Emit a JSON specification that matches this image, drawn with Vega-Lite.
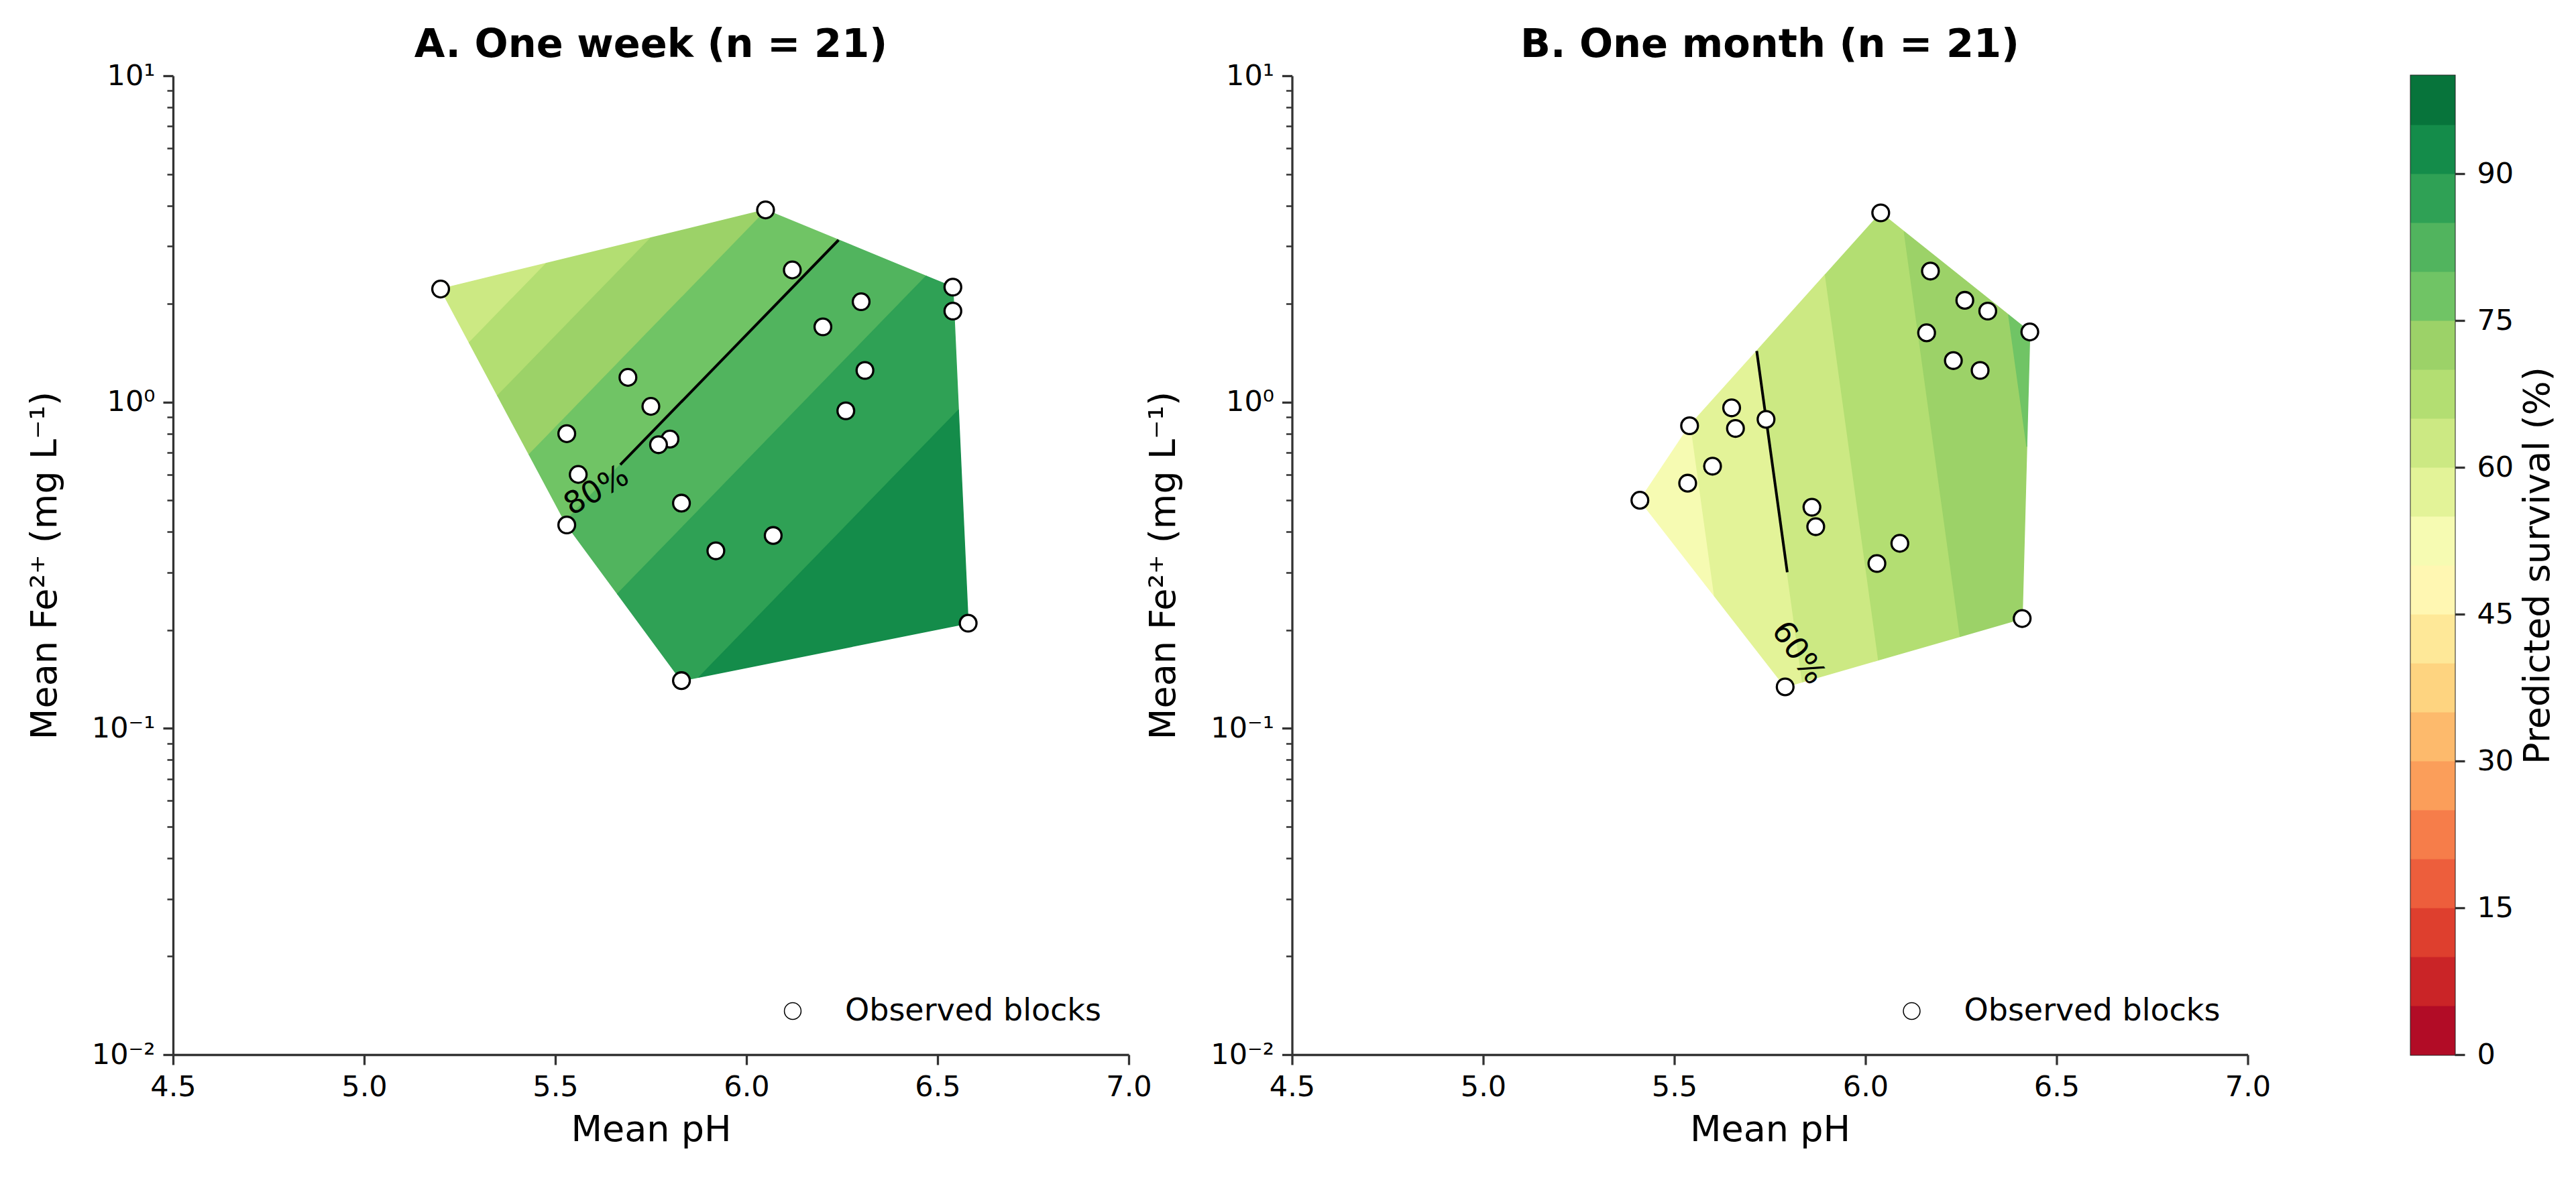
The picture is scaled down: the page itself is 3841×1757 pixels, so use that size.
{
  "$schema": "https://vega.github.io/schema/vega-lite/v6.json",
  "background": "white",
  "padding": {"left": 40, "top": 38, "right": 10, "bottom": 10},
  "autosize": {"type": "pad"},
  "config": {
    "font": "DejaVu Sans",
    "view": {"stroke": null},
    "axis": {
      "grid": false, "labelFont": "DejaVu Sans", "titleFont": "DejaVu Sans",
      "labelFontSize": 43, "titleFontSize": 54, "titleFontWeight": "normal",
      "labelColor": "black", "titleColor": "black",
      "domainColor": "#333333", "tickColor": "#333333",
      "domainWidth": 3.3, "tickWidth": 3.3, "tickSize": 15, "labelPadding": 12,
      "labelFlush": false, "labelOverlap": false, "labelBound": false
    }
  },
  "datasets": {
    "bands": [
      {"band": "0-5", "lo": 0, "hi": 5}, {"band": "5-10", "lo": 5, "hi": 10},
      {"band": "10-15", "lo": 10, "hi": 15}, {"band": "15-20", "lo": 15, "hi": 20},
      {"band": "20-25", "lo": 20, "hi": 25}, {"band": "25-30", "lo": 25, "hi": 30},
      {"band": "30-35", "lo": 30, "hi": 35}, {"band": "35-40", "lo": 35, "hi": 40},
      {"band": "40-45", "lo": 40, "hi": 45}, {"band": "45-50", "lo": 45, "hi": 50},
      {"band": "50-55", "lo": 50, "hi": 55}, {"band": "55-60", "lo": 55, "hi": 60},
      {"band": "60-65", "lo": 60, "hi": 65}, {"band": "65-70", "lo": 65, "hi": 70},
      {"band": "70-75", "lo": 70, "hi": 75}, {"band": "75-80", "lo": 75, "hi": 80},
      {"band": "80-85", "lo": 80, "hi": 85}, {"band": "85-90", "lo": 85, "hi": 90},
      {"band": "90-95", "lo": 90, "hi": 95}, {"band": "95-100", "lo": 95, "hi": 100}
    ],
    "polyA": [
      {"band": "60-65", "i": 0, "pH": 5.20, "Fe": 2.22},
      {"band": "60-65", "i": 1, "pH": 5.4768, "Fe": 2.663},
      {"band": "60-65", "i": 2, "pH": 5.2750, "Fe": 1.5205},
      {"band": "65-70", "i": 0, "pH": 5.4768, "Fe": 2.663},
      {"band": "65-70", "i": 1, "pH": 5.7502, "Fe": 3.186},
      {"band": "65-70", "i": 2, "pH": 5.3491, "Fe": 1.0462},
      {"band": "65-70", "i": 3, "pH": 5.2750, "Fe": 1.5205},
      {"band": "70-75", "i": 0, "pH": 5.7502, "Fe": 3.186},
      {"band": "70-75", "i": 1, "pH": 6.05, "Fe": 3.88},
      {"band": "70-75", "i": 2, "pH": 6.0523, "Fe": 3.870},
      {"band": "70-75", "i": 3, "pH": 5.4315, "Fe": 0.6904},
      {"band": "70-75", "i": 4, "pH": 5.3491, "Fe": 1.0462},
      {"band": "75-80", "i": 0, "pH": 6.0523, "Fe": 3.870},
      {"band": "75-80", "i": 1, "pH": 6.2410, "Fe": 3.1376},
      {"band": "75-80", "i": 2, "pH": 5.5253, "Fe": 0.4300},
      {"band": "75-80", "i": 3, "pH": 5.4315, "Fe": 0.6904},
      {"band": "80-85", "i": 0, "pH": 6.2410, "Fe": 3.1376},
      {"band": "80-85", "i": 1, "pH": 6.4703, "Fe": 2.4316},
      {"band": "80-85", "i": 2, "pH": 5.6628, "Fe": 0.2582},
      {"band": "80-85", "i": 3, "pH": 5.53, "Fe": 0.42},
      {"band": "80-85", "i": 4, "pH": 5.5253, "Fe": 0.4300},
      {"band": "85-90", "i": 0, "pH": 6.4703, "Fe": 2.4316},
      {"band": "85-90", "i": 1, "pH": 6.54, "Fe": 2.25},
      {"band": "85-90", "i": 2, "pH": 6.5546, "Fe": 0.9447},
      {"band": "85-90", "i": 3, "pH": 5.8761, "Fe": 0.1435},
      {"band": "85-90", "i": 4, "pH": 5.83, "Fe": 0.14},
      {"band": "85-90", "i": 5, "pH": 5.6628, "Fe": 0.2582},
      {"band": "90-95", "i": 0, "pH": 6.5546, "Fe": 0.9447},
      {"band": "90-95", "i": 1, "pH": 6.58, "Fe": 0.21},
      {"band": "90-95", "i": 2, "pH": 5.8761, "Fe": 0.1435}
    ],
    "polyB": [
      {"band": "50-55", "i": 0, "pH": 5.41, "Fe": 0.50},
      {"band": "50-55", "i": 1, "pH": 5.54, "Fe": 0.846},
      {"band": "50-55", "i": 2, "pH": 5.5431, "Fe": 0.8541},
      {"band": "50-55", "i": 3, "pH": 5.6052, "Fe": 0.2543},
      {"band": "55-60", "i": 0, "pH": 5.5431, "Fe": 0.8541},
      {"band": "55-60", "i": 1, "pH": 5.7156, "Fe": 1.4338},
      {"band": "55-60", "i": 2, "pH": 5.8352, "Fe": 0.1388},
      {"band": "55-60", "i": 3, "pH": 5.79, "Fe": 0.134},
      {"band": "55-60", "i": 4, "pH": 5.6052, "Fe": 0.2543},
      {"band": "60-65", "i": 0, "pH": 5.7156, "Fe": 1.4338},
      {"band": "60-65", "i": 1, "pH": 5.8950, "Fe": 2.4575},
      {"band": "60-65", "i": 2, "pH": 6.0343, "Fe": 0.1620},
      {"band": "60-65", "i": 3, "pH": 5.8352, "Fe": 0.1388},
      {"band": "65-70", "i": 0, "pH": 5.8950, "Fe": 2.4575},
      {"band": "65-70", "i": 1, "pH": 6.04, "Fe": 3.80},
      {"band": "65-70", "i": 2, "pH": 6.1014, "Fe": 3.3289},
      {"band": "65-70", "i": 3, "pH": 6.2478, "Fe": 0.1913},
      {"band": "65-70", "i": 4, "pH": 6.0343, "Fe": 0.1620},
      {"band": "70-75", "i": 0, "pH": 6.1014, "Fe": 3.3289},
      {"band": "70-75", "i": 1, "pH": 6.3746, "Fe": 1.8480},
      {"band": "70-75", "i": 2, "pH": 6.4220, "Fe": 0.7318},
      {"band": "70-75", "i": 3, "pH": 6.41, "Fe": 0.217},
      {"band": "70-75", "i": 4, "pH": 6.2478, "Fe": 0.1913},
      {"band": "75-80", "i": 0, "pH": 6.3746, "Fe": 1.8480},
      {"band": "75-80", "i": 1, "pH": 6.43, "Fe": 1.64},
      {"band": "75-80", "i": 2, "pH": 6.4220, "Fe": 0.7318}
    ],
    "lineA": [{"pH": 5.670, "Fe": 0.6427}, {"pH": 6.2410, "Fe": 3.1376}],
    "lineB": [{"pH": 5.7156, "Fe": 1.4338}, {"pH": 5.7955, "Fe": 0.301}],
    "ptsA": [
      {"pH": 5.20, "Fe": 2.22}, {"pH": 6.05, "Fe": 3.88}, {"pH": 6.12, "Fe": 2.54},
      {"pH": 6.54, "Fe": 2.25}, {"pH": 6.54, "Fe": 1.90}, {"pH": 6.30, "Fe": 2.03},
      {"pH": 6.20, "Fe": 1.70}, {"pH": 6.31, "Fe": 1.25}, {"pH": 6.26, "Fe": 0.94},
      {"pH": 5.69, "Fe": 1.19}, {"pH": 5.75, "Fe": 0.97}, {"pH": 5.53, "Fe": 0.80},
      {"pH": 5.80, "Fe": 0.77}, {"pH": 5.77, "Fe": 0.74}, {"pH": 5.56, "Fe": 0.60},
      {"pH": 5.83, "Fe": 0.49}, {"pH": 5.53, "Fe": 0.42}, {"pH": 6.07, "Fe": 0.39},
      {"pH": 5.92, "Fe": 0.35}, {"pH": 5.83, "Fe": 0.14}, {"pH": 6.58, "Fe": 0.21}
    ],
    "ptsB": [
      {"pH": 6.04, "Fe": 3.80}, {"pH": 6.17, "Fe": 2.52}, {"pH": 6.26, "Fe": 2.05},
      {"pH": 6.32, "Fe": 1.90}, {"pH": 6.43, "Fe": 1.64}, {"pH": 6.16, "Fe": 1.63},
      {"pH": 6.23, "Fe": 1.34}, {"pH": 6.30, "Fe": 1.25}, {"pH": 5.65, "Fe": 0.96},
      {"pH": 5.74, "Fe": 0.885}, {"pH": 5.54, "Fe": 0.846}, {"pH": 5.66, "Fe": 0.83},
      {"pH": 5.60, "Fe": 0.636}, {"pH": 5.535, "Fe": 0.564}, {"pH": 5.41, "Fe": 0.50},
      {"pH": 5.86, "Fe": 0.476}, {"pH": 5.87, "Fe": 0.415}, {"pH": 6.09, "Fe": 0.369},
      {"pH": 6.03, "Fe": 0.320}, {"pH": 6.41, "Fe": 0.217}, {"pH": 5.79, "Fe": 0.134}
    ]
  },
  "hconcat": [
    {
      "width": 1425, "height": 1460,
      "title": {"text": "A. One week (n = 21)", "fontSize": 59, "fontWeight": "bold", "offset": -52, "baseline": "alphabetic", "color": "black", "font": "DejaVu Sans", "anchor": "middle"},
      "layer": [
        {
          "data": {"name": "polyA"},
          "mark": {"type": "line", "interpolate": "linear-closed", "filled": true, "strokeWidth": 1.5, "strokeJoin": "round"},
          "encoding": {
            "x": {"field": "pH", "type": "quantitative", "scale": {"domain": [4.5, 7], "nice": false, "zero": false},
                  "axis": {"title": "Mean pH", "values": [4.5, 5, 5.5, 6, 6.5, 7], "format": ".1f", "titlePadding": 15}},
            "y": {"field": "Fe", "type": "quantitative", "scale": {"type": "log", "domain": [0.01, 10], "nice": false},
                  "axis": {"title": "Mean Fe²⁺ (mg L⁻¹)", "values": [0.01, 0.1, 1, 10], "titlePadding": 42,
                           "labelExpr": "datum.value > 5 ? '10¹' : datum.value > 0.5 ? '10⁰' : datum.value > 0.05 ? '10⁻¹' : '10⁻²'"}},
            "order": {"field": "i", "type": "quantitative"},
            "fill": {"field": "band", "type": "nominal", "legend": null,
                     "scale": {"domain": ["0-5","5-10","10-15","15-20","20-25","25-30","30-35","35-40","40-45","45-50","50-55","55-60","60-65","65-70","70-75","75-80","80-85","85-90","90-95","95-100"],
                               "range": ["#b20c26","#ca2427","#de3f2e","#ed5e3c","#f67d4a","#fb9e5a","#fdba6c","#fed480","#fee898","#fff7b2","#f6fbb2","#e3f398","#cce983","#b3de72","#9cd268","#70c465","#51b45e","#2fa155","#148c4a","#07743b"]}},
            "stroke": {"field": "band", "type": "nominal", "legend": null,
                     "scale": {"domain": ["0-5","5-10","10-15","15-20","20-25","25-30","30-35","35-40","40-45","45-50","50-55","55-60","60-65","65-70","70-75","75-80","80-85","85-90","90-95","95-100"],
                               "range": ["#b20c26","#ca2427","#de3f2e","#ed5e3c","#f67d4a","#fb9e5a","#fdba6c","#fed480","#fee898","#fff7b2","#f6fbb2","#e3f398","#cce983","#b3de72","#9cd268","#70c465","#51b45e","#2fa155","#148c4a","#07743b"]}}
          }
        },
        {
          "data": {"name": "lineA"},
          "mark": {"type": "line", "color": "black", "strokeWidth": 4},
          "encoding": {
            "x": {"field": "pH", "type": "quantitative"},
            "y": {"field": "Fe", "type": "quantitative", "axis": null}
          }
        },
        {
          "data": {"values": [{"pH": 5.608, "Fe": 0.535, "label": "80%"}]},
          "mark": {"type": "text", "angle": 330, "fontSize": 46, "color": "black", "font": "DejaVu Sans"},
          "encoding": {
            "x": {"field": "pH", "type": "quantitative"},
            "y": {"field": "Fe", "type": "quantitative", "axis": null},
            "text": {"field": "label"}
          }
        },
        {
          "data": {"name": "ptsA"},
          "mark": {"type": "point", "filled": true, "fill": "white", "stroke": "black", "strokeWidth": 3.3, "size": 620, "opacity": 1},
          "encoding": {
            "x": {"field": "pH", "type": "quantitative"},
            "y": {"field": "Fe", "type": "quantitative",
                  "axis": {"orient": "left", "values": [0.02,0.03,0.04,0.05,0.06,0.07,0.08,0.09,0.2,0.3,0.4,0.5,0.6,0.7,0.8,0.9,2,3,4,5,6,7,8,9],
                           "labels": false, "tickSize": 9, "tickWidth": 2.5, "domain": false, "title": null}},
            "shape": {"datum": "Observed blocks", "type": "nominal", "scale": {"range": ["circle"]},
                      "legend": {"orient": "none", "legendX": 901, "legendY": 1372, "title": null, "labelFontSize": 46, "labelFont": "DejaVu Sans",
                                 "labelColor": "black", "labelLimit": 800, "symbolSize": 620, "symbolType": "circle", "labelOffset": 55, "padding": 0,
                                 "encode": {"symbols": {"update": {"fill": {"value": "white"}, "stroke": {"value": "black"}, "strokeWidth": {"value": 3.3}, "opacity": {"value": 1}}}}}}
          }
        }
      ],
      "resolve": {"axis": {"y": "independent"}}
    },
    {
      "width": 1425, "height": 1460,
      "title": {"text": "B. One month (n = 21)", "fontSize": 59, "fontWeight": "bold", "offset": -52, "baseline": "alphabetic", "color": "black", "font": "DejaVu Sans", "anchor": "middle"},
      "layer": [
        {
          "data": {"name": "polyB"},
          "mark": {"type": "line", "interpolate": "linear-closed", "filled": true, "strokeWidth": 1.5, "strokeJoin": "round"},
          "encoding": {
            "x": {"field": "pH", "type": "quantitative", "scale": {"domain": [4.5, 7], "nice": false, "zero": false},
                  "axis": {"title": "Mean pH", "values": [4.5, 5, 5.5, 6, 6.5, 7], "format": ".1f", "titlePadding": 15}},
            "y": {"field": "Fe", "type": "quantitative", "scale": {"type": "log", "domain": [0.01, 10], "nice": false},
                  "axis": {"title": "Mean Fe²⁺ (mg L⁻¹)", "values": [0.01, 0.1, 1, 10], "titlePadding": 42,
                           "labelExpr": "datum.value > 5 ? '10¹' : datum.value > 0.5 ? '10⁰' : datum.value > 0.05 ? '10⁻¹' : '10⁻²'"}},
            "order": {"field": "i", "type": "quantitative"},
            "fill": {"field": "band", "type": "nominal", "legend": null,
                     "scale": {"domain": ["0-5","5-10","10-15","15-20","20-25","25-30","30-35","35-40","40-45","45-50","50-55","55-60","60-65","65-70","70-75","75-80","80-85","85-90","90-95","95-100"],
                               "range": ["#b20c26","#ca2427","#de3f2e","#ed5e3c","#f67d4a","#fb9e5a","#fdba6c","#fed480","#fee898","#fff7b2","#f6fbb2","#e3f398","#cce983","#b3de72","#9cd268","#70c465","#51b45e","#2fa155","#148c4a","#07743b"]}},
            "stroke": {"field": "band", "type": "nominal", "legend": null,
                     "scale": {"domain": ["0-5","5-10","10-15","15-20","20-25","25-30","30-35","35-40","40-45","45-50","50-55","55-60","60-65","65-70","70-75","75-80","80-85","85-90","90-95","95-100"],
                               "range": ["#b20c26","#ca2427","#de3f2e","#ed5e3c","#f67d4a","#fb9e5a","#fdba6c","#fed480","#fee898","#fff7b2","#f6fbb2","#e3f398","#cce983","#b3de72","#9cd268","#70c465","#51b45e","#2fa155","#148c4a","#07743b"]}}
          }
        },
        {
          "data": {"name": "lineB"},
          "mark": {"type": "line", "color": "black", "strokeWidth": 4},
          "encoding": {
            "x": {"field": "pH", "type": "quantitative"},
            "y": {"field": "Fe", "type": "quantitative", "axis": null}
          }
        },
        {
          "data": {"values": [{"pH": 5.824, "Fe": 0.170, "label": "60%"}]},
          "mark": {"type": "text", "angle": 55, "fontSize": 46, "color": "black", "font": "DejaVu Sans"},
          "encoding": {
            "x": {"field": "pH", "type": "quantitative"},
            "y": {"field": "Fe", "type": "quantitative", "axis": null},
            "text": {"field": "label"}
          }
        },
        {
          "data": {"name": "ptsB"},
          "mark": {"type": "point", "filled": true, "fill": "white", "stroke": "black", "strokeWidth": 3.3, "size": 620, "opacity": 1},
          "encoding": {
            "x": {"field": "pH", "type": "quantitative"},
            "y": {"field": "Fe", "type": "quantitative",
                  "axis": {"orient": "left", "values": [0.02,0.03,0.04,0.05,0.06,0.07,0.08,0.09,0.2,0.3,0.4,0.5,0.6,0.7,0.8,0.9,2,3,4,5,6,7,8,9],
                           "labels": false, "tickSize": 9, "tickWidth": 2.5, "domain": false, "title": null}},
            "shape": {"datum": "Observed blocks", "type": "nominal", "scale": {"range": ["circle"]},
                      "legend": {"orient": "none", "legendX": 901, "legendY": 1372, "title": null, "labelFontSize": 46, "labelFont": "DejaVu Sans",
                                 "labelColor": "black", "labelLimit": 800, "symbolSize": 620, "symbolType": "circle", "labelOffset": 55, "padding": 0,
                                 "encode": {"symbols": {"update": {"fill": {"value": "white"}, "stroke": {"value": "black"}, "strokeWidth": {"value": 3.3}, "opacity": {"value": 1}}}}}}
          }
        }
      ],
      "resolve": {"axis": {"y": "independent"}}
    },
    {
      "width": 65, "height": 1460,
      "view": {"stroke": "#222222", "strokeWidth": 3},
      "data": {"name": "bands"},
      "mark": {"type": "rect", "strokeWidth": 1},
      "encoding": {
        "y": {"field": "lo", "type": "quantitative", "scale": {"domain": [0, 100], "nice": false, "zero": false},
              "axis": {"orient": "right", "values": [0, 15, 30, 45, 60, 75, 90], "title": "Predicted survival (%)",
                       "titleAngle": 270, "titleBaseline": "top", "domain": false, "labelPadding": 18, "titlePadding": 10}},
        "y2": {"field": "hi"},
        "fill": {"field": "band", "type": "nominal", "legend": null,
                 "scale": {"domain": ["0-5","5-10","10-15","15-20","20-25","25-30","30-35","35-40","40-45","45-50","50-55","55-60","60-65","65-70","70-75","75-80","80-85","85-90","90-95","95-100"],
                           "range": ["#b20c26","#ca2427","#de3f2e","#ed5e3c","#f67d4a","#fb9e5a","#fdba6c","#fed480","#fee898","#fff7b2","#f6fbb2","#e3f398","#cce983","#b3de72","#9cd268","#70c465","#51b45e","#2fa155","#148c4a","#07743b"]}},
        "stroke": {"field": "band", "type": "nominal", "legend": null,
                 "scale": {"domain": ["0-5","5-10","10-15","15-20","20-25","25-30","30-35","35-40","40-45","45-50","50-55","55-60","60-65","65-70","70-75","75-80","80-85","85-90","90-95","95-100"],
                           "range": ["#b20c26","#ca2427","#de3f2e","#ed5e3c","#f67d4a","#fb9e5a","#fdba6c","#fed480","#fee898","#fff7b2","#f6fbb2","#e3f398","#cce983","#b3de72","#9cd268","#70c465","#51b45e","#2fa155","#148c4a","#07743b"]}}
      }
    }
  ],
  "spacing": 243.5,
  "bounds": "flush",
  "resolve": {"scale": {"x": "independent", "y": "independent", "shape": "independent"}, "legend": {"shape": "independent"}}
}
